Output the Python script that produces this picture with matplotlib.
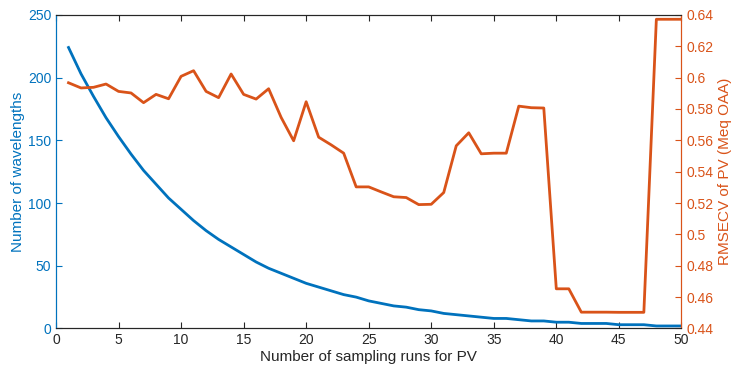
import numpy as np
from matplotlib import pyplot as plt

plt.rcParams['font.family'] = ['Liberation Sans', 'DejaVu Sans']

runs = np.arange(1, 51)
wavelengths = [224, 203, 185, 168, 153, 139, 126, 115, 104, 95,
               86, 78, 71, 65, 59, 53, 48, 44, 40, 36,
               33, 30, 27, 25, 22, 20, 18, 17, 15, 14,
               12, 11, 10, 9, 8, 8, 7, 6, 6, 5,
               5, 4, 4, 4, 3, 3, 3, 2, 2, 2]
rmsecv = [0.5967, 0.5934, 0.5938, 0.5959, 0.5912, 0.5902, 0.5840, 0.5893, 0.5865, 0.6008,
          0.6044, 0.5912, 0.5872, 0.6023, 0.5893, 0.5863, 0.5929, 0.5746, 0.5597, 0.5846,
          0.5620, 0.5571, 0.5518, 0.5303, 0.5303, 0.5271, 0.5240, 0.5235, 0.5190, 0.5192,
          0.5267, 0.5565, 0.5648, 0.5514, 0.5518, 0.5518, 0.5818, 0.5808, 0.5806, 0.4653,
          0.4653, 0.4504, 0.4504, 0.4504, 0.4503, 0.4503, 0.4503, 0.6372, 0.6372, 0.6372]

blue = '#0072BD'
orange = '#D95319'

fig = plt.figure(figsize=(7.34, 3.72), dpi=100)
ax = fig.add_axes([0.0763, 0.117, 0.852, 0.843])
ax2 = ax.twinx()

ax.plot(runs, wavelengths, color=blue, lw=2)
ax2.plot(runs, rmsecv, color=orange, lw=2)

ax.set_xlim(0, 50)
ax.set_ylim(0, 250)
ax2.set_ylim(0.44, 0.64)
ax.set_xticks(range(0, 51, 5))
ax.set_yticks(range(0, 251, 50))
r_ticks = np.round(np.arange(0.44, 0.6401, 0.02), 2)
ax2.set_yticks(r_ticks)
ax2.set_yticklabels(['%g' % t for t in r_ticks])

ax.tick_params(axis='x', direction='in', top=True, length=4.5, labelsize=10,
               color='#262626', labelcolor='#262626')
ax.tick_params(axis='y', direction='in', length=4.5, labelsize=10,
               color=blue, labelcolor=blue)
ax2.tick_params(axis='y', direction='in', length=4.5, labelsize=10,
                color=orange, labelcolor=orange)

for a in (ax, ax2):
    a.spines['left'].set_color(blue)
    a.spines['right'].set_color(orange)
    a.spines['top'].set_color('#262626')
    a.spines['bottom'].set_color('#262626')

ax.set_xlabel('Number of sampling runs for PV', fontsize=11, color='#262626', labelpad=2)
ax.set_ylabel('Number of wavelengths', fontsize=11, color=blue, labelpad=2)
ax2.set_ylabel('RMSECV of PV (Meq OAA)', fontsize=11, color=orange, labelpad=3)

plt.savefig('out.png')
